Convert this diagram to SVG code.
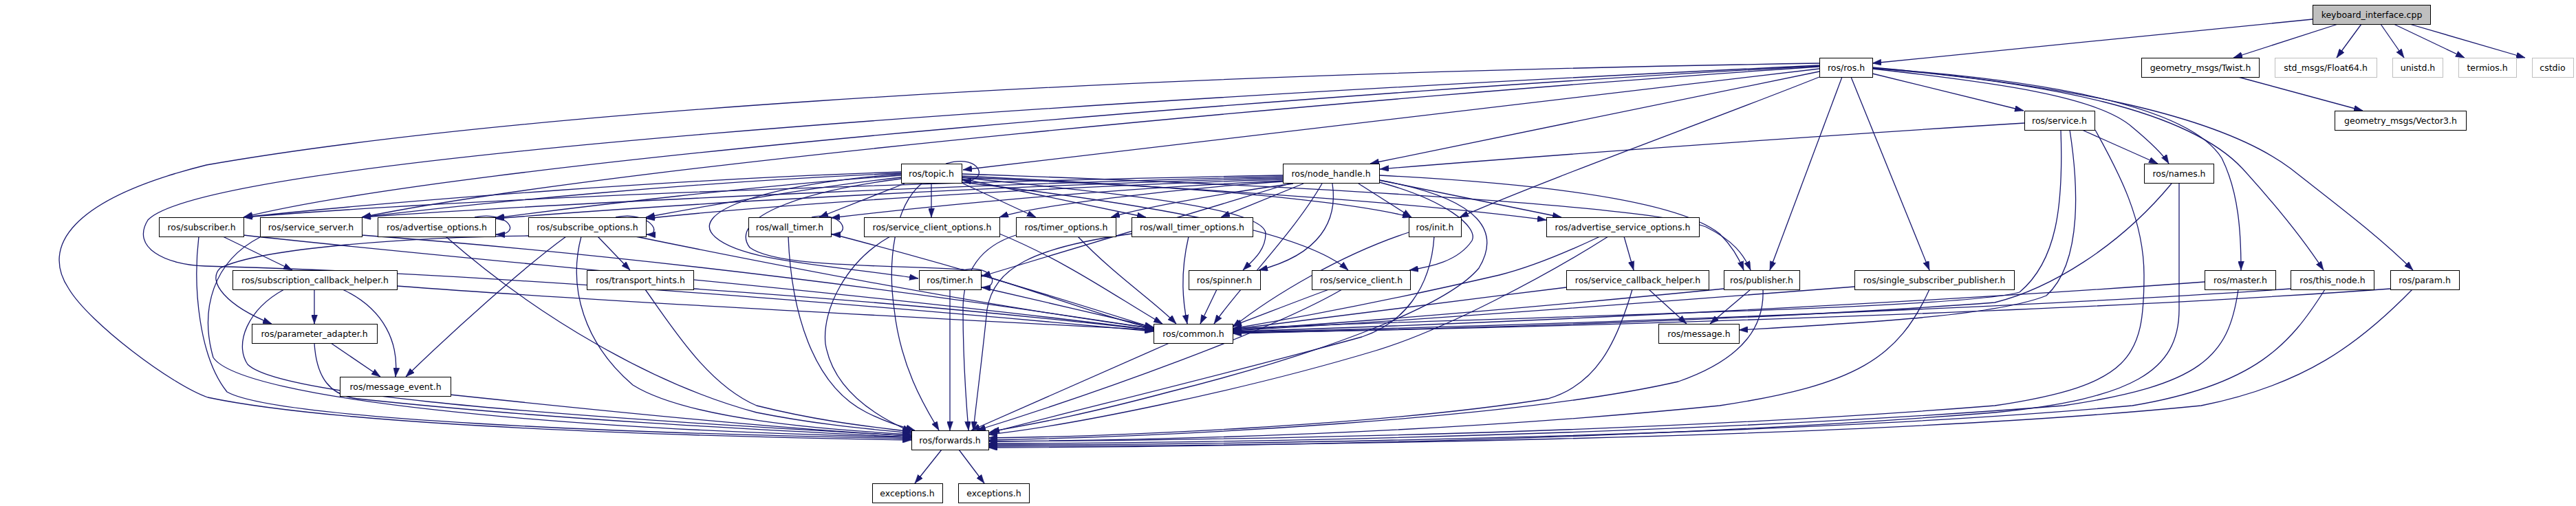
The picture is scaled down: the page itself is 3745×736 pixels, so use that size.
<svg xmlns="http://www.w3.org/2000/svg" width="3745" height="736" viewBox="0 0 3745 736">
<style>
.node rect{fill:#fff;stroke:#000;stroke-width:1}
.ext rect{stroke:#bfbfbf}
.root rect{fill:#bfbfbf}
text{font-family:"DejaVu Sans","Liberation Sans",sans-serif;font-size:12.5px;text-anchor:middle;fill:#000}
#edges path{fill:none;stroke:#191970;stroke-width:1.3;marker-end:url(#ah)}
</style>
<defs>
<marker id="ah" viewBox="0 0 13 9" refX="13" refY="4.5" markerWidth="13" markerHeight="9" markerUnits="userSpaceOnUse" orient="auto"><path d="M0,0L13,4.5L0,9z" fill="#191970" stroke="#191970" stroke-width="0.5"/></marker>
</defs>
<rect width="3745" height="736" fill="#fff"/>
<g id="edges">
<path d="M3362,28 L2722,92"/>
<path d="M3399,35 L3247,84"/>
<path d="M3433,35 L3397,84"/>
<path d="M3461,35 L3495,84"/>
<path d="M3480,35 L3583,84"/>
<path d="M3503,35 L3671,84"/>
<path d="M3254,112 L3435,161"/>
<path d="M2722,107 L2942,161"/>
<path d="M2722,100 C2900,120 3050,140 3100,185 C3130,210 3145,225 3153,238"/>
<path d="M2722,99 C2950,115 3180,150 3230,230 C3255,280 3258,340 3258,393"/>
<path d="M2722,99 C2980,120 3180,160 3260,245 C3310,300 3350,350 3378,393"/>
<path d="M2722,98 C3020,125 3230,170 3330,245 C3400,300 3460,345 3508,393"/>
<path d="M2691,112 L2805,393"/>
<path d="M2678,112 L2573,393"/>
<path d="M2645,112 C2500,170 2250,260 2122,316"/>
<path d="M2645,104 L1992,238"/>
<path d="M2645,100 L1400,247"/>
<path d="M2645,96 C2000,130 700,230 354,316"/>
<path d="M2645,97 C2000,140 900,240 526,316"/>
<path d="M2645,95 C1500,150 300,230 215,320 C190,360 240,385 298,387 C500,392 900,410 1677,482"/>
<path d="M2645,92 C1500,110 700,170 300,240 C100,290 60,360 100,420 C130,470 250,560 302,578 C500,620 1000,635 1325,640"/>
<path d="M3027,189 L3137,238"/>
<path d="M2943,179 C2600,200 2200,230 2006,246"/>
<path d="M2996,189 C3000,300 2990,380 2936,425 C2850,450 2200,460 1792,478"/>
<path d="M3009,189 C3020,260 3030,380 2975,430 C2900,460 2700,470 2528,480"/>
<path d="M3046,189 C3080,250 3117,320 3117,400 C3117,520 3100,560 2900,590 C2400,630 1800,640 1437,642"/>
<path d="M1375,238 C1430,222 1438,268 1399,262"/>
<path d="M1310,250 C1000,260 600,290 354,316"/>
<path d="M1310,252 C1000,265 700,295 526,316"/>
<path d="M1310,255 C1100,270 850,300 720,317"/>
<path d="M1310,258 C1200,270 1050,295 939,316"/>
<path d="M1315,267 L1191,316"/>
<path d="M1354,267 L1354,316"/>
<path d="M1396,265 L1506,316"/>
<path d="M1398,260 L1666,316"/>
<path d="M1398,256 C1700,270 1950,290 2052,316"/>
<path d="M1398,258 C1800,275 2100,300 2248,320"/>
<path d="M1398,253 C1900,270 2400,300 2480,330 C2520,350 2535,370 2545,393"/>
<path d="M1398,258 C1600,280 1840,300 1840,340 C1840,365 1820,380 1807,393"/>
<path d="M1398,265 C1700,300 1900,340 1960,393"/>
<path d="M1310,253 C1100,270 1000,310 1040,345 C1080,380 1200,385 1335,405"/>
<path d="M1310,260 C1150,280 1060,320 1090,360 C1130,390 1300,385 1400,392 C1500,420 1600,460 1677,478"/>
<path d="M1340,267 C1300,300 1290,380 1300,450 C1310,540 1350,600 1365,626"/>
<path d="M1865,255 C1500,262 800,280 354,316"/>
<path d="M1865,257 C1500,265 900,290 526,316"/>
<path d="M1865,259 C1500,268 1000,295 720,318"/>
<path d="M1865,261 C1500,272 1100,300 939,318"/>
<path d="M1865,263 C1600,275 1350,300 1208,317"/>
<path d="M1865,264 C1700,275 1500,300 1453,316"/>
<path d="M1880,267 C1750,285 1650,305 1615,316"/>
<path d="M1895,267 L1775,316"/>
<path d="M1875,267 C1700,320 1500,380 1427,402"/>
<path d="M1937,267 C1945,320 1920,370 1830,393"/>
<path d="M1922,267 C1880,340 1800,420 1765,471"/>
<path d="M1975,267 L2052,316"/>
<path d="M2005,262 L2270,316"/>
<path d="M2005,255 C2300,270 2450,300 2500,340 C2520,360 2530,380 2535,393"/>
<path d="M2005,265 C2100,290 2150,330 2140,350 C2120,380 2080,388 2049,393"/>
<path d="M2005,262 C2160,290 2180,340 2150,390 C2100,450 1900,520 1700,570 C1550,610 1480,620 1440,628"/>
<path d="M324,344 L425,393"/>
<path d="M354,342 C700,380 1200,420 1677,480"/>
<path d="M289,344 C280,420 290,520 330,570 C400,610 900,630 1325,638"/>
<path d="M526,342 C900,370 1300,420 1677,478"/>
<path d="M378,345 C310,380 290,450 310,520 C350,580 800,625 1325,636"/>
<path d="M690,316 C740,306 760,342 721,341"/>
<path d="M648,344 C780,460 950,560 1100,600 C1200,620 1280,625 1325,630"/>
<path d="M895,316 C945,306 965,342 940,341"/>
<path d="M869,344 L916,393"/>
<path d="M823,344 C760,390 660,480 590,548"/>
<path d="M768,343 C600,345 380,360 320,390 C300,410 330,445 395,471"/>
<path d="M845,344 C825,420 850,500 920,560 C1000,610 1200,625 1325,632"/>
<path d="M924,344 C1100,380 1400,440 1677,478"/>
<path d="M1180,316 C1225,306 1240,342 1209,341"/>
<path d="M1146,344 C1150,450 1180,560 1260,600 C1290,615 1310,620 1330,626"/>
<path d="M1208,340 C1400,390 1560,440 1677,477"/>
<path d="M1294,344 C1230,380 1195,450 1200,500 C1210,560 1260,600 1325,628"/>
<path d="M1453,340 C1550,380 1620,430 1690,471"/>
<path d="M1567,344 C1620,400 1680,440 1710,471"/>
<path d="M1477,342 C1420,360 1400,400 1400,450 C1400,530 1405,590 1408,626"/>
<path d="M1728,344 C1715,400 1720,440 1726,471"/>
<path d="M1645,340 C1500,360 1445,390 1435,450 C1428,520 1420,580 1415,626"/>
<path d="M2048,338 C1950,370 1850,430 1792,476"/>
<path d="M2085,344 C2080,420 2040,470 1980,490 C1800,540 1550,600 1437,630"/>
<path d="M2361,344 L2375,393"/>
<path d="M2326,344 C2250,380 2200,395 2180,400 C2050,430 1900,460 1792,478"/>
<path d="M2338,344 C2250,400 2100,480 2000,510 C1800,570 1550,620 1437,632"/>
<path d="M457,421 L457,471"/>
<path d="M498,421 C560,450 580,500 575,548"/>
<path d="M413,421 C360,450 340,500 360,530 C400,570 700,600 1325,634"/>
<path d="M577,416 C900,440 1300,460 1677,480"/>
<path d="M1008,420 C1300,440 1500,460 1677,480"/>
<path d="M938,421 C980,480 1030,560 1100,590 C1200,615 1280,622 1325,628"/>
<path d="M1400,393 C1445,383 1455,420 1427,418"/>
<path d="M1381,421 L1381,626"/>
<path d="M1427,418 C1500,435 1600,458 1677,476"/>
<path d="M1769,421 L1745,471"/>
<path d="M1932,421 C1880,440 1830,460 1792,474"/>
<path d="M1951,421 C1850,480 1600,570 1420,626"/>
<path d="M2397,421 L2452,471"/>
<path d="M2277,418 C2100,440 1900,465 1792,479"/>
<path d="M2373,421 C2350,500 2320,560 2250,580 C2000,620 1600,635 1437,637"/>
<path d="M2545,421 L2486,471"/>
<path d="M2506,420 C2200,450 1950,470 1792,480"/>
<path d="M2563,421 C2565,470 2540,520 2440,555 C2200,610 1700,635 1437,640"/>
<path d="M2696,417 C2400,440 2000,470 1792,481"/>
<path d="M2805,421 C2760,520 2700,560 2500,590 C2100,630 1700,640 1437,642"/>
<path d="M3205,410 C2800,440 2200,470 1792,482"/>
<path d="M3254,421 C3240,520 3200,560 3000,590 C2500,630 1800,645 1437,645"/>
<path d="M3330,420 C2900,450 2200,475 1792,483"/>
<path d="M3380,421 C3330,500 3280,560 3100,590 C2600,635 1800,647 1437,647"/>
<path d="M3475,420 C3000,455 2200,478 1792,484"/>
<path d="M3507,421 C3430,500 3350,560 3200,590 C2700,640 1800,649 1437,649"/>
<path d="M3157,267 C3080,360 2980,420 2900,440 C2500,470 2000,480 1792,485"/>
<path d="M3168,267 L3168,450 C3168,540 3100,580 2900,600 C2400,640 1800,650 1437,651"/>
<path d="M481,499 L553,548"/>
<path d="M457,499 C460,550 480,575 520,580 C800,610 1100,625 1325,636"/>
<path d="M654,574 C900,600 1150,625 1325,634"/>
<path d="M1700,499 L1412,626"/>
<path d="M1369,654 L1330,703"/>
<path d="M1394,654 L1431,703"/>
</g>
<g id="n_keyboard" class="node root"><rect x="3362.5" y="7.5" width="171" height="28"/><text x="3448" y="26">keyboard_interface.cpp</text></g>
<g id="n_ros" class="node"><rect x="2645.5" y="84.5" width="77" height="28"/><text x="2684" y="103">ros/ros.h</text></g>
<g id="n_twist" class="node"><rect x="3113.5" y="84.5" width="171" height="28"/><text x="3199" y="103">geometry_msgs/Twist.h</text></g>
<g id="n_float64" class="node ext"><rect x="3307.5" y="84.5" width="148" height="28"/><text x="3381" y="103">std_msgs/Float64.h</text></g>
<g id="n_unistd" class="node ext"><rect x="3478.5" y="84.5" width="73" height="28"/><text x="3515" y="103">unistd.h</text></g>
<g id="n_termios" class="node ext"><rect x="3574.5" y="84.5" width="84" height="28"/><text x="3616" y="103">termios.h</text></g>
<g id="n_cstdio" class="node ext"><rect x="3681.5" y="84.5" width="60" height="28"/><text x="3711" y="103">cstdio</text></g>
<g id="n_service" class="node"><rect x="2943.5" y="161.5" width="102" height="28"/><text x="2994" y="180">ros/service.h</text></g>
<g id="n_vector3" class="node"><rect x="3394.5" y="161.5" width="191" height="28"/><text x="3490" y="180">geometry_msgs/Vector3.h</text></g>
<g id="n_topic" class="node"><rect x="1310.5" y="238.5" width="88" height="28"/><text x="1354" y="257">ros/topic.h</text></g>
<g id="n_node_handle" class="node"><rect x="1865.5" y="238.5" width="140" height="28"/><text x="1935" y="257">ros/node_handle.h</text></g>
<g id="n_names" class="node"><rect x="3117.5" y="238.5" width="101" height="28"/><text x="3168" y="257">ros/names.h</text></g>
<g id="n_subscriber" class="node"><rect x="231.5" y="316.5" width="123" height="28"/><text x="293" y="335">ros/subscriber.h</text></g>
<g id="n_service_server" class="node"><rect x="378.5" y="316.5" width="148" height="28"/><text x="452" y="335">ros/service_server.h</text></g>
<g id="n_advertise_options" class="node"><rect x="549.5" y="316.5" width="171" height="28"/><text x="635" y="335">ros/advertise_options.h</text></g>
<g id="n_subscribe_options" class="node"><rect x="768.5" y="316.5" width="171" height="28"/><text x="854" y="335">ros/subscribe_options.h</text></g>
<g id="n_wall_timer" class="node"><rect x="1088.5" y="316.5" width="120" height="28"/><text x="1148" y="335">ros/wall_timer.h</text></g>
<g id="n_service_client_options" class="node"><rect x="1256.5" y="316.5" width="197" height="28"/><text x="1355" y="335">ros/service_client_options.h</text></g>
<g id="n_timer_options" class="node"><rect x="1477.5" y="316.5" width="145" height="28"/><text x="1550" y="335">ros/timer_options.h</text></g>
<g id="n_wall_timer_options" class="node"><rect x="1645.5" y="316.5" width="176" height="28"/><text x="1733" y="335">ros/wall_timer_options.h</text></g>
<g id="n_init" class="node"><rect x="2048.5" y="316.5" width="76" height="28"/><text x="2086" y="335">ros/init.h</text></g>
<g id="n_advertise_service_options" class="node"><rect x="2248.5" y="316.5" width="222" height="28"/><text x="2359" y="335">ros/advertise_service_options.h</text></g>
<g id="n_subscription_callback_helper" class="node"><rect x="338.5" y="393.5" width="239" height="28"/><text x="458" y="412">ros/subscription_callback_helper.h</text></g>
<g id="n_transport_hints" class="node"><rect x="853.5" y="393.5" width="155" height="28"/><text x="931" y="412">ros/transport_hints.h</text></g>
<g id="n_timer" class="node"><rect x="1336.5" y="393.5" width="90" height="28"/><text x="1381" y="412">ros/timer.h</text></g>
<g id="n_spinner" class="node"><rect x="1728.5" y="393.5" width="104" height="28"/><text x="1780" y="412">ros/spinner.h</text></g>
<g id="n_service_client" class="node"><rect x="1907.5" y="393.5" width="143" height="28"/><text x="1979" y="412">ros/service_client.h</text></g>
<g id="n_service_callback_helper" class="node"><rect x="2277.5" y="393.5" width="207" height="28"/><text x="2381" y="412">ros/service_callback_helper.h</text></g>
<g id="n_publisher" class="node"><rect x="2506.5" y="393.5" width="110" height="28"/><text x="2561" y="412">ros/publisher.h</text></g>
<g id="n_single_subscriber_publisher" class="node"><rect x="2696.5" y="393.5" width="232" height="28"/><text x="2812" y="412">ros/single_subscriber_publisher.h</text></g>
<g id="n_master" class="node"><rect x="3205.5" y="393.5" width="103" height="28"/><text x="3257" y="412">ros/master.h</text></g>
<g id="n_this_node" class="node"><rect x="3330.5" y="393.5" width="121" height="28"/><text x="3391" y="412">ros/this_node.h</text></g>
<g id="n_param" class="node"><rect x="3475.5" y="393.5" width="100" height="28"/><text x="3525" y="412">ros/param.h</text></g>
<g id="n_parameter_adapter" class="node"><rect x="366.5" y="471.5" width="182" height="28"/><text x="457" y="490">ros/parameter_adapter.h</text></g>
<g id="n_common" class="node"><rect x="1677.5" y="471.5" width="115" height="28"/><text x="1735" y="490">ros/common.h</text></g>
<g id="n_message" class="node"><rect x="2411.5" y="471.5" width="117" height="28"/><text x="2470" y="490">ros/message.h</text></g>
<g id="n_message_event" class="node"><rect x="494.5" y="548.5" width="161" height="28"/><text x="575" y="567">ros/message_event.h</text></g>
<g id="n_forwards" class="node"><rect x="1325.5" y="626.5" width="112" height="28"/><text x="1381" y="645">ros/forwards.h</text></g>
<g id="n_exceptions_1" class="node"><rect x="1268.5" y="703.5" width="102" height="28"/><text x="1319" y="722">exceptions.h</text></g>
<g id="n_exceptions_2" class="node"><rect x="1393.5" y="703.5" width="103" height="28"/><text x="1445" y="722">exceptions.h</text></g>
</svg>
